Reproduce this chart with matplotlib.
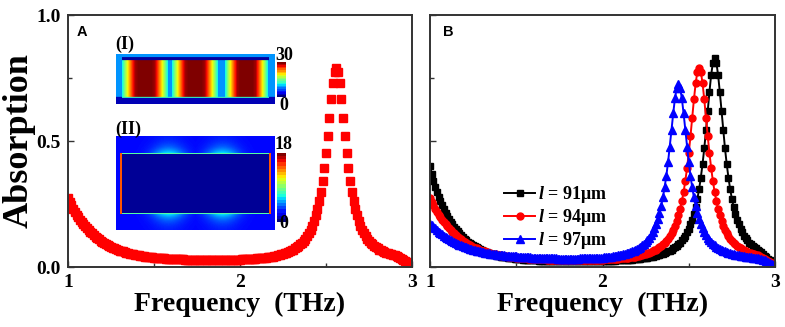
import numpy as np
import matplotlib
matplotlib.use("Agg")
import matplotlib.pyplot as plt
from matplotlib.ticker import MultipleLocator
from matplotlib.colorbar import ColorbarBase

# frequency grid (THz), 0.01 THz step
freq = np.linspace(1.0, 3.0, 201)

# absorption, l = 91 um (black squares)
abs_91 = [
    0.400, 0.370, 0.343, 0.319, 0.298, 0.279, 0.261, 0.245, 0.230, 0.216,
    0.203, 0.191, 0.180, 0.169, 0.159, 0.150, 0.141, 0.134, 0.127, 0.120,
    0.113, 0.107, 0.101, 0.096, 0.091, 0.086, 0.082, 0.078, 0.074, 0.070,
    0.067, 0.064, 0.061, 0.058, 0.055, 0.053, 0.051, 0.049, 0.047, 0.045,
    0.043, 0.041, 0.040, 0.039, 0.038, 0.037, 0.036, 0.035, 0.034, 0.033,
    0.032, 0.031, 0.030, 0.030, 0.029, 0.029, 0.028, 0.028, 0.027, 0.027,
    0.026, 0.026, 0.026, 0.025, 0.025, 0.025, 0.025, 0.024, 0.024, 0.024,
    0.024, 0.024, 0.024, 0.023, 0.023, 0.023, 0.023, 0.023, 0.023, 0.023,
    0.023, 0.023, 0.023, 0.023, 0.023, 0.023, 0.023, 0.023, 0.023, 0.023,
    0.023, 0.023, 0.023, 0.024, 0.024, 0.024, 0.024, 0.024, 0.024, 0.024,
    0.024, 0.024, 0.024, 0.024, 0.025, 0.025, 0.025, 0.025, 0.026, 0.026,
    0.026, 0.027, 0.027, 0.027, 0.028, 0.028, 0.029, 0.029, 0.030, 0.031,
    0.031, 0.032, 0.033, 0.034, 0.035, 0.036, 0.037, 0.038, 0.040, 0.041,
    0.043, 0.044, 0.046, 0.048, 0.050, 0.053, 0.055, 0.058, 0.062, 0.065,
    0.069, 0.074, 0.079, 0.084, 0.090, 0.097, 0.106, 0.115, 0.125, 0.138,
    0.152, 0.169, 0.188, 0.211, 0.238, 0.271, 0.309, 0.355, 0.409, 0.471,
    0.542, 0.619, 0.695, 0.763, 0.811, 0.828, 0.811, 0.763, 0.695, 0.619,
    0.542, 0.471, 0.409, 0.355, 0.309, 0.271, 0.238, 0.211, 0.188, 0.169,
    0.152, 0.138, 0.125, 0.115, 0.106, 0.097, 0.090, 0.084, 0.079, 0.074,
    0.069, 0.063, 0.058, 0.051, 0.045, 0.040, 0.033, 0.026, 0.019, 0.011,
    0.004]

# l = 94 um (red), also the curve of panel A
abs_94 = [
    0.272, 0.258, 0.245, 0.232, 0.219, 0.207, 0.197, 0.188, 0.179, 0.170,
    0.162, 0.154, 0.147, 0.140, 0.133, 0.127, 0.121, 0.115, 0.110, 0.105,
    0.100, 0.096, 0.092, 0.088, 0.084, 0.080, 0.077, 0.074, 0.071, 0.068,
    0.065, 0.064, 0.062, 0.059, 0.057, 0.055, 0.053, 0.052, 0.050, 0.049,
    0.047, 0.046, 0.045, 0.043, 0.042, 0.041, 0.040, 0.039, 0.039, 0.038,
    0.037, 0.036, 0.036, 0.035, 0.035, 0.034, 0.034, 0.033, 0.033, 0.032,
    0.032, 0.032, 0.031, 0.031, 0.031, 0.030, 0.030, 0.030, 0.029, 0.029,
    0.029, 0.029, 0.028, 0.028, 0.028, 0.028, 0.028, 0.027, 0.027, 0.027,
    0.027, 0.027, 0.027, 0.027, 0.027, 0.027, 0.027, 0.027, 0.027, 0.027,
    0.027, 0.027, 0.027, 0.028, 0.028, 0.028, 0.028, 0.028, 0.029, 0.029,
    0.029, 0.030, 0.030, 0.030, 0.031, 0.031, 0.032, 0.032, 0.033, 0.033,
    0.034, 0.034, 0.035, 0.036, 0.036, 0.037, 0.038, 0.039, 0.040, 0.041,
    0.043, 0.044, 0.046, 0.048, 0.050, 0.052, 0.054, 0.056, 0.059, 0.062,
    0.066, 0.069, 0.074, 0.078, 0.084, 0.090, 0.096, 0.104, 0.113, 0.123,
    0.135, 0.148, 0.164, 0.183, 0.205, 0.230, 0.261, 0.298, 0.341, 0.392,
    0.452, 0.519, 0.592, 0.665, 0.729, 0.775, 0.791, 0.775, 0.729, 0.665,
    0.592, 0.519, 0.452, 0.392, 0.341, 0.298, 0.261, 0.230, 0.205, 0.183,
    0.164, 0.148, 0.135, 0.123, 0.113, 0.104, 0.096, 0.090, 0.084, 0.078,
    0.074, 0.069, 0.066, 0.062, 0.059, 0.056, 0.054, 0.052, 0.050, 0.048,
    0.046, 0.043, 0.040, 0.036, 0.033, 0.029, 0.025, 0.020, 0.015, 0.009,
    0.003]

# l = 97 um (blue triangles)
abs_97 = [
    0.172, 0.165, 0.159, 0.153, 0.147, 0.140, 0.135, 0.129, 0.124, 0.119,
    0.114, 0.110, 0.106, 0.102, 0.099, 0.095, 0.092, 0.089, 0.086, 0.083,
    0.080, 0.078, 0.076, 0.073, 0.071, 0.069, 0.067, 0.065, 0.063, 0.062,
    0.060, 0.059, 0.057, 0.056, 0.055, 0.053, 0.052, 0.051, 0.050, 0.049,
    0.048, 0.047, 0.047, 0.046, 0.045, 0.044, 0.044, 0.043, 0.043, 0.042,
    0.042, 0.041, 0.041, 0.040, 0.040, 0.039, 0.039, 0.038, 0.038, 0.037,
    0.037, 0.037, 0.036, 0.036, 0.036, 0.035, 0.035, 0.035, 0.034, 0.034,
    0.034, 0.034, 0.034, 0.034, 0.033, 0.033, 0.033, 0.033, 0.033, 0.033,
    0.033, 0.033, 0.033, 0.033, 0.033, 0.033, 0.033, 0.034, 0.034, 0.034,
    0.034, 0.034, 0.034, 0.035, 0.035, 0.035, 0.036, 0.036, 0.037, 0.037,
    0.037, 0.038, 0.039, 0.040, 0.040, 0.041, 0.042, 0.043, 0.044, 0.046,
    0.047, 0.049, 0.050, 0.052, 0.054, 0.057, 0.059, 0.062, 0.065, 0.069,
    0.072, 0.077, 0.081, 0.087, 0.093, 0.100, 0.108, 0.117, 0.128, 0.140,
    0.155, 0.171, 0.191, 0.215, 0.243, 0.276, 0.316, 0.362, 0.416, 0.478,
    0.544, 0.610, 0.669, 0.710, 0.725, 0.710, 0.669, 0.610, 0.544, 0.478,
    0.416, 0.362, 0.316, 0.276, 0.243, 0.215, 0.191, 0.171, 0.155, 0.140,
    0.128, 0.117, 0.108, 0.100, 0.093, 0.087, 0.081, 0.077, 0.072, 0.069,
    0.065, 0.062, 0.059, 0.057, 0.054, 0.052, 0.050, 0.049, 0.047, 0.046,
    0.044, 0.043, 0.042, 0.041, 0.040, 0.039, 0.038, 0.037, 0.036, 0.036,
    0.035, 0.033, 0.032, 0.029, 0.027, 0.024, 0.021, 0.017, 0.013, 0.008,
    0.003]

labels = ["$l$ = 91μm", "$l$ = 94μm", "$l$ = 97μm"]
colors = ["black", "#ff0000", "#0000ff"]
markers = ["s", "o", "^"]

plt.rcParams["font.family"] = "Liberation Serif"
plt.rcParams["font.weight"] = "bold"
plt.rcParams["mathtext.fontset"] = "custom"
plt.rcParams["mathtext.it"] = "Liberation Serif:italic:bold"
plt.rcParams["mathtext.rm"] = "Liberation Serif:bold"

W, H = 785, 327
px = lambda x, y: (x / W, 1 - y / H)

fig = plt.figure(figsize=(7.85, 3.27), dpi=100)
axA = fig.add_axes([68 / W, 1 - 267 / H, 344 / W, 252 / H])
axB = fig.add_axes([430 / W, 1 - 267 / H, 345 / W, 252 / H])


def style(ax):
    ax.set_xlim(1, 3); ax.set_ylim(0, 1)
    ax.xaxis.set_major_locator(MultipleLocator(1))
    ax.xaxis.set_minor_locator(MultipleLocator(0.5))
    ax.yaxis.set_major_locator(MultipleLocator(0.5))
    ax.yaxis.set_minor_locator(MultipleLocator(0.25))
    ax.tick_params(which="both", direction="in", top=False, right=False,
                   labelsize=14, width=1, color="#333333", pad=5)
    ax.tick_params(which="major", length=4)
    ax.tick_params(which="minor", length=3)
    for lab in ax.get_xticklabels() + ax.get_yticklabels():
        lab.set_fontweight("bold")
    for s in ax.spines.values():
        s.set_linewidth(1.4); s.set_color("#333333")
    ax.set_xlabel("Frequency  (THz)", fontsize=20, fontweight="bold", labelpad=1)


# panel A
style(axA)
axA.plot(freq, abs_94, ls="none", marker="s", ms=5.8, color="#ff0000", mec="#ff0000")
axA.set_ylabel("Absorption", fontsize=26, fontweight="bold")
axA.yaxis.set_label_coords(-0.095, 0.5)
axA.text(82 / W, 1 - 32 / H, "A", transform=fig.transFigure, family="Liberation Sans",
         fontsize=10.5, fontweight="bold", ha="center", va="center")

# panel B
style(axB)
axB.tick_params(labelleft=False)
for ys, c, m, lab, ms in zip([abs_91, abs_94, abs_97], colors, markers, labels, [4.4, 5.0, 5.6]):
    axB.plot(freq, ys, color=c, marker=m, ms=ms, mec=c, lw=1.4, label=lab)
axB.text(448 / W, 1 - 32 / H, "B", transform=fig.transFigure, family="Liberation Sans",
         fontsize=10.5, fontweight="bold", ha="center", va="center")
axB.legend(loc="upper left", bbox_to_anchor=(0.215, 0.33), frameon=False,
           handlelength=1.7, handletextpad=0.15, labelspacing=0.12, borderpad=0,
           borderaxespad=0, prop={"family": "Liberation Serif", "weight": "bold", "size": 13})

# inset (I): field map of the three resonator cells
img1 = np.full((50, 159), 0.27)
img1[4:7, 6:153] = 0.03
img1[43:50, :] = 0.05
img1[43, 6:153] = 0.42
cell = np.array([0.38, 0.55, 0.70, 0.85, 0.97, 1, 1, 1, 1, 1, 0.97, 0.85, 0.70, 0.55, 0.38])
for x0, x1 in [(6, 52), (56, 102), (109, 152)]:
    img1[7:43, x0:x1] = np.interp(np.linspace(0, 1, x1 - x0), np.linspace(0, 1, cell.size), cell)

# inset (II): field map of the large cavity
img2 = np.full((94, 159), 0.13)
rr, cc = np.mgrid[0:94, 0:159]
for cx in (52, 106):
    for edge, sgn in ((17, -1), (77, 1)):
        dist = np.clip(sgn * (rr - edge), 0, None)
        glow = 0.24 * np.exp(-((cc - cx) / 16.0) ** 2) * np.exp(-dist / 7.0)
        mask = sgn * (rr - edge) >= 0
        img2 = np.where(mask, np.maximum(img2, 0.13 + glow), img2)
img2[17, 5:155] = 0.45
img2[77, 5:155] = 0.45
img2[18:77, 5:155] = 0.02
img2[17:78, 4:6] = 0.82
img2[17:78, 153:155] = 0.82

for img, top, bot, cb_top, cb_bot, hi, tag, tag_y, hi_y, lo_y in [
        (img1, 54, 104, 62, 97, "30", "(I)", 44, 55, 106),
        (img2, 136, 230, 153, 222, "18", "(II)", 129, 145, 224)]:
    ax_i = fig.add_axes([116 / W, 1 - bot / H, 159 / W, (bot - top) / H])
    ax_i.imshow(img, cmap="jet", vmin=0, vmax=1, aspect="auto", interpolation="bilinear")
    ax_i.axis("off")
    cax = fig.add_axes([277 / W, 1 - cb_bot / H, 9 / W, (cb_bot - cb_top) / H])
    cb = ColorbarBase(cax, cmap=plt.get_cmap("jet", 22), orientation="vertical")
    cb.set_ticks([]); cb.outline.set_visible(False)
    fig.text(*px(284, hi_y), hi, fontsize=13, fontweight="bold", ha="center", va="center")
    fig.text(*px(284, lo_y), "0", fontsize=13, fontweight="bold", ha="center", va="center")
    fig.text(*px(115, tag_y), tag, fontsize=13, fontweight="bold", ha="left", va="center")

fig.savefig("out.png", dpi=100)
